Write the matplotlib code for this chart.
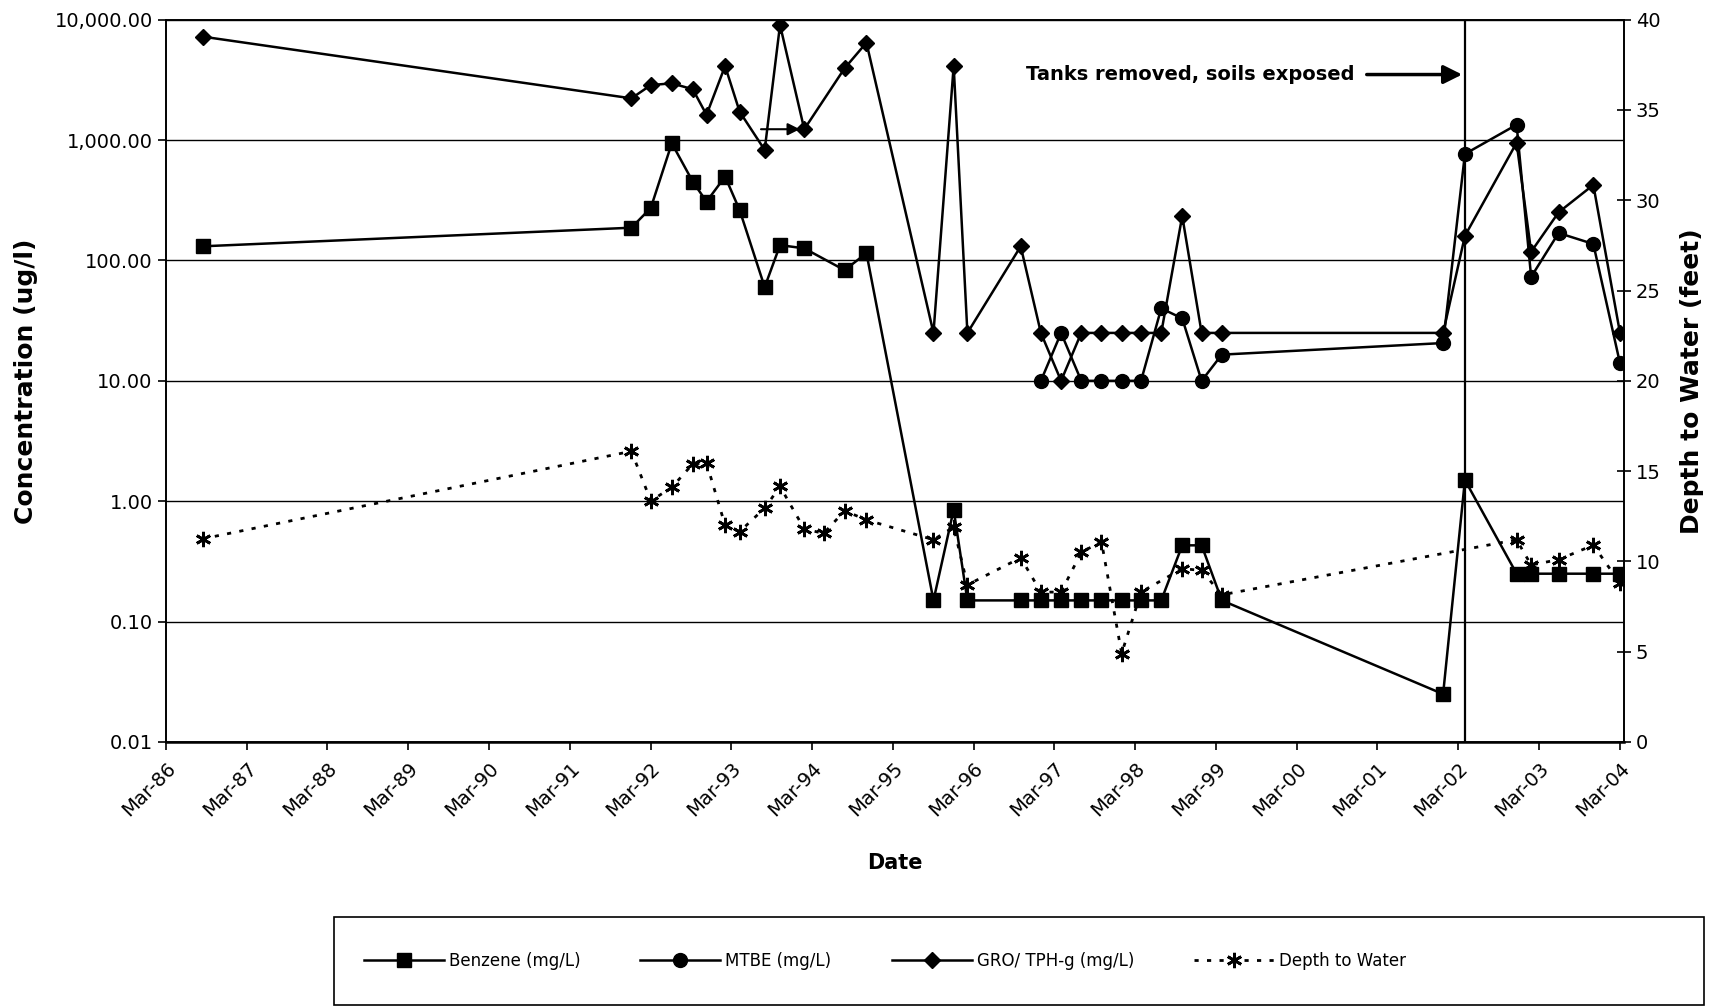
import matplotlib
matplotlib.use("Agg")
import matplotlib.pyplot as plt
from matplotlib.patches import Rectangle
from matplotlib.ticker import FuncFormatter, FixedLocator, NullLocator

# sampling dates as decimal years
conc_dates = [1986.62, 1991.93, 1992.17, 1992.43, 1992.69, 1992.86, 1993.09, 1993.27,
              1993.58, 1993.77, 1994.07, 1994.57, 1994.84, 1995.67, 1995.92, 1996.09,
              1996.75, 1997.00, 1997.25, 1997.50, 1997.75, 1998.00, 1998.24, 1998.49,
              1998.75, 1998.99, 1999.24, 2001.98, 2002.25, 2002.89, 2003.07, 2003.41,
              2003.84, 2004.17]

benzene = [131, 187, 273, 940, 451, 308, 497, 262, 60, 134, 126, 83, 115,
           0.15, 0.85, 0.15, 0.15, 0.15, 0.15, 0.15, 0.15, 0.15, 0.15, 0.15,
           0.43, 0.43, 0.15, 0.025, 1.5, 0.25, 0.25, 0.25, 0.25, 0.25]

gro = [7230, 2220, 2860, 2960, 2640, 1620, 4120, 1720, 828, 9040, 1230, 3950, 6440,
       25, 4120, 25, 131, 25, 10, 25, 25, 25, 25, 25, 234, 25, 25,
       25, 160, 950, 118, 251, 424, 25]

mtbe_dates = [1997.00, 1997.25, 1997.50, 1997.75, 1998.00, 1998.24, 1998.49, 1998.75,
              1998.99, 1999.24, 2001.98, 2002.25, 2002.89, 2003.07, 2003.41, 2003.84,
              2004.17]
mtbe = [10, 25, 10, 10, 10, 10, 40, 33, 10, 16.5, 20.6, 766, 1340, 73, 169, 137, 14]

depth_dates = [1986.62, 1991.93, 1992.17, 1992.43, 1992.69, 1992.86, 1993.09, 1993.27,
               1993.58, 1993.77, 1994.07, 1994.31, 1994.57, 1994.84, 1995.67, 1995.92,
               1996.09, 1996.75, 1997.00, 1997.25, 1997.50, 1997.75, 1998.00, 1998.24,
               1998.75, 1998.99, 1999.24, 2002.89, 2003.07, 2003.41, 2003.84, 2004.17]
depth = [11.25, 16.1, 13.35, 14.1, 15.4, 15.45, 12.0, 11.65, 12.95, 14.15, 11.8, 11.55,
         12.8, 12.3, 11.2, 11.9, 8.7, 10.2, 8.3, 8.3, 10.5, 11.1, 4.9, 8.3,
         9.6, 9.5, 8.15, 11.2, 9.8, 10.1, 10.9, 8.8]

tick_years = list(range(1986, 2005))
tick_labels = ["Mar-%02d" % (y % 100) for y in tick_years]
tank_removal = 2002.25

fig = plt.figure(figsize=(17.16, 10.08), dpi=100)
ax = fig.add_axes([0.0967, 0.2639, 0.8497, 0.7166])
ax2 = ax.twinx()

lw = 1.8
ax.plot(conc_dates, benzene, color="black", lw=lw, marker="s", ms=10, label="Benzene (mg/L)")
ax.plot(mtbe_dates, mtbe, color="black", lw=lw, marker="o", ms=10, label="MTBE (mg/L)")
ax.plot(conc_dates, gro, color="black", lw=lw, marker="D", ms=8, label="GRO/ TPH-g (mg/L)")
ax2.plot(depth_dates, depth, color="black", lw=2, linestyle=(0, (1.5, 3)),
         marker=(6, 2, 0), ms=11, mew=2, label="Depth to Water")

ax.set_yscale("log")
ax.set_ylim(0.01, 10000)
ax.set_xlim(1986 + 2 / 12, 2004.22)
ax.yaxis.set_major_formatter(FuncFormatter(lambda v, p: "{:,.2f}".format(v)))
ax.yaxis.set_minor_locator(NullLocator())
ax.xaxis.set_major_locator(FixedLocator([y + 2 / 12 for y in tick_years]))
ax.set_xticklabels(tick_labels, rotation=45, ha="right", rotation_mode="anchor", fontsize=14)
ax.tick_params(axis="y", labelsize=14, length=6, width=1.2)
ax.tick_params(axis="x", length=6, width=1.2, pad=6)
ax.grid(axis="y", color="black", lw=1.0)
ax.set_axisbelow(True)

ax2.set_ylim(0, 40)
ax2.set_yticks(range(0, 41, 5))
ax2.tick_params(axis="y", labelsize=14, direction="inout", length=10, width=1.2)

for a in (ax, ax2):
    for s in a.spines.values():
        s.set_color("black")
        s.set_linewidth(1.2)
ax.spines["bottom"].set_linewidth(1.8)

ax.set_ylabel("Concentration (ug/l)", fontsize=18, fontweight="bold", labelpad=12)
ax2.set_ylabel("Depth to Water (feet)", fontsize=18, fontweight="bold", labelpad=14)
ax.set_xlabel("Date", fontsize=15, fontweight="bold", labelpad=24)

# tank removal marker
ax.axvline(tank_removal, color="black", lw=1.6)
ax.annotate("", xy=(tank_removal, 3500), xytext=(2001.0, 3500),
            arrowprops=dict(arrowstyle="-|>", color="black", lw=2.5, mutation_scale=28))
ax.text(1998.85, 3500, "Tanks removed, soils exposed", ha="center", va="center",
        fontsize=14, fontweight="bold")
ax.annotate("", xy=(1994.05, 1230), xytext=(1993.5, 1230),
            arrowprops=dict(arrowstyle="-|>", color="black", lw=1.5, mutation_scale=18))

# legend inside a separate box
h1, l1 = ax.get_legend_handles_labels()
h2, l2 = ax2.get_legend_handles_labels()
fig.add_artist(Rectangle((0.1946, 0.003), 0.7984, 0.0873, transform=fig.transFigure,
                         fill=False, edgecolor="black", lw=1.2))
fig.legend(h1 + h2, l1 + l2, loc="center left", bbox_to_anchor=(0.212, 0.0466),
           ncol=4, frameon=False, fontsize=12, handlelength=4.8, handletextpad=0.3,
           columnspacing=3.6, borderpad=0, borderaxespad=0)

fig.savefig("out.png", dpi=100)
